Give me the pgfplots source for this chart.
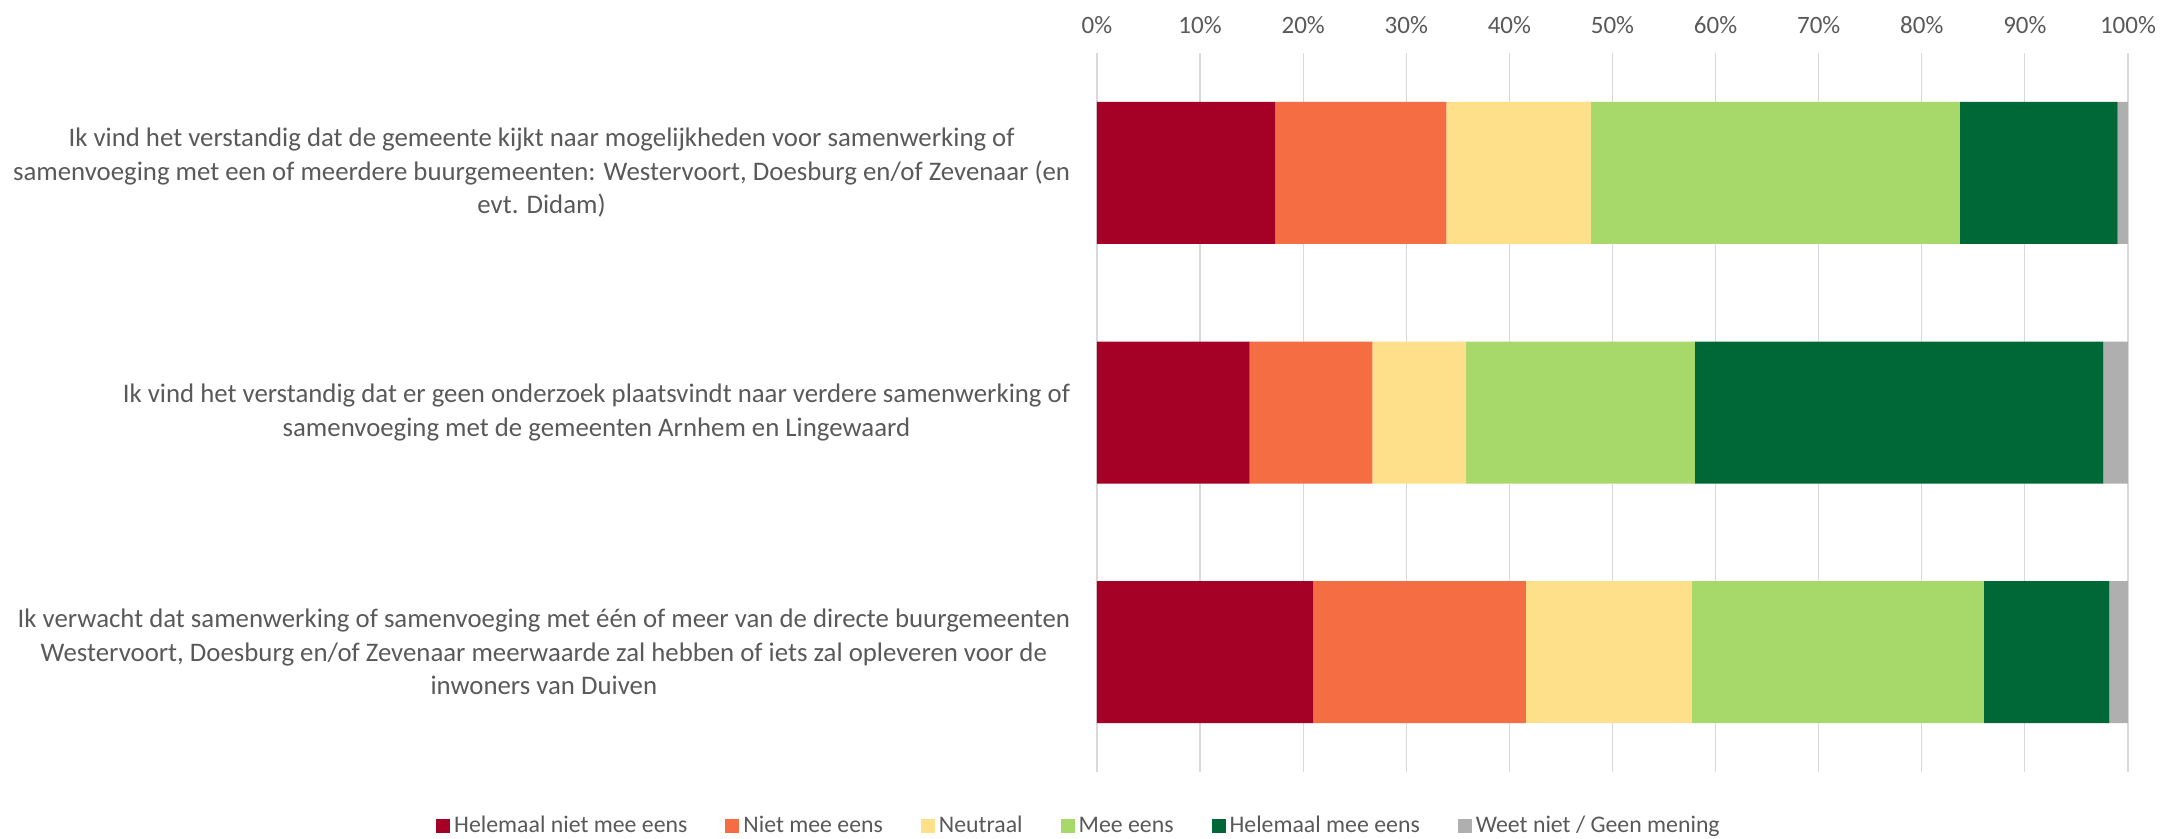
\documentclass[border=0pt]{standalone}
\usepackage{fontspec}
\setmainfont{Carlito}
\usepackage{pgfplots}
\pgfplotsset{compat=1.18}

\definecolor{txt}{HTML}{595959}
\definecolor{gridc}{HTML}{D9D9D9}
\definecolor{c1}{HTML}{A50026}
\definecolor{c2}{HTML}{F46D43}
\definecolor{c3}{HTML}{FEE08B}
\definecolor{c4}{HTML}{A6D96A}
\definecolor{c5}{HTML}{006837}
\definecolor{c6}{HTML}{AFAFAF}

\begin{document}
\begin{tikzpicture}
\useasboundingbox (-548.5pt,-33.5pt) rectangle (541.5pt,386pt);
\begin{axis}[
  at={(0,0)}, anchor=south west,
  scale only axis, width=515.5pt, height=359.5pt,
  xbar stacked, bar width=71pt,
  xmin=0, xmax=100, ymin=-0.5, ymax=2.5, y dir=reverse,
  xtick={0,10,...,100},
  xticklabel={\pgfmathprintnumber{\tick}\%},
  xticklabel pos=upper,
  /pgf/number format/assume math mode=true,
  xticklabel style={font=\fontsize{12.5}{15}\selectfont, text=txt, yshift=6pt},
  ytick={0,1,2},
  yticklabels={
    {Ik vind het verstandig dat de gemeente kijkt naar mogelijkheden voor samenwerking of\\samenvoeging met een of meerdere buurgemeenten: Westervoort, Doesburg en/of Zevenaar (en\\evt. Didam)},
    {Ik vind het verstandig dat er geen onderzoek plaatsvindt naar verdere samenwerking of\\samenvoeging met de gemeenten Arnhem en Lingewaard},
    {Ik verwacht dat samenwerking of samenvoeging met één of meer van de directe buurgemeenten\\Westervoort, Doesburg en/of Zevenaar meerwaarde zal hebben of iets zal opleveren voor de\\inwoners van Duiven}},
  yticklabel style={align=center, font=\fontsize{13.4}{16.7}\selectfont, text=txt, xshift=-10pt},
  axis line style={draw=none},
  major tick length=0pt,
  xmajorgrids, grid style={gridc, line width=0.6pt},
  legend columns=6,
  legend style={at={(-0.0165,-0.0751)}, anchor=center, draw=none, fill=none,
    font=\fontsize{11.9}{14}\selectfont, text=txt,
    /tikz/every even column/.append style={column sep=17pt}},
  legend image code/.code={\fill[#1] (0pt,-3.5pt) rectangle (7pt,3.5pt);},
]
\addplot[fill=c1, draw=none] coordinates {(17.3,0) (14.8,1) (21.0,2)};
\addplot[fill=c2, draw=none] coordinates {(16.6,0) (11.9,1) (20.6,2)};
\addplot[fill=c3, draw=none] coordinates {(14.0,0) (9.1,1) (16.1,2)};
\addplot[fill=c4, draw=none] coordinates {(35.8,0) (22.2,1) (28.3,2)};
\addplot[fill=c5, draw=none] coordinates {(15.3,0) (39.6,1) (12.2,2)};
\addplot[fill=c6, draw=none] coordinates {(1.0,0) (2.4,1) (1.8,2)};
\legend{Helemaal niet mee eens, Niet mee eens, Neutraal, Mee eens, Helemaal mee eens, Weet niet / Geen mening}
\end{axis}
\end{tikzpicture}
\end{document}
